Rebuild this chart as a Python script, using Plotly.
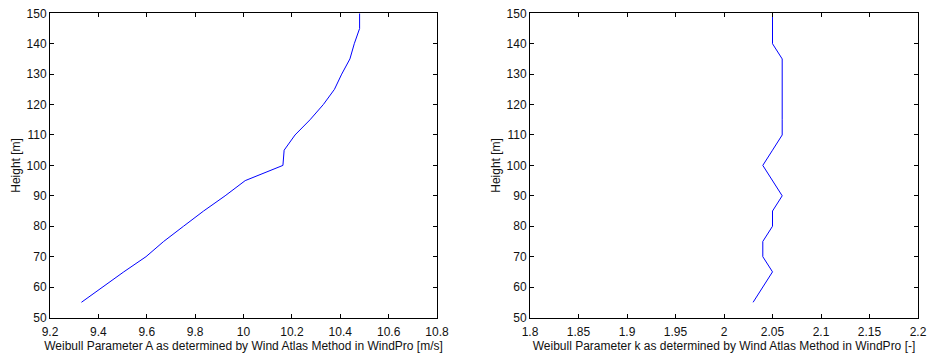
import plotly.graph_objects as go

# Hub-height profile (m) and the Weibull parameters at each height
heights = [55, 60, 65, 70, 75, 80, 85, 90, 95, 100,
           105, 110, 115, 120, 125, 130, 135, 140, 145, 150]
weibull_A = [9.33, 9.415, 9.505, 9.597, 9.67, 9.752, 9.835, 9.924, 10.007, 10.163,
             10.168, 10.213, 10.275, 10.33, 10.376, 10.406, 10.44, 10.458, 10.48, 10.48]
weibull_k = [2.03, 2.04, 2.05, 2.04, 2.04, 2.05, 2.05, 2.06, 2.05, 2.04,
             2.05, 2.06, 2.06, 2.06, 2.06, 2.06, 2.06, 2.05, 2.05, 2.05]

A_ticks = [9.2, 9.4, 9.6, 9.8, 10.0, 10.2, 10.4, 10.6, 10.8]
A_ticktext = ["9.2", "9.4", "9.6", "9.8", "10", "10.2", "10.4", "10.6", "10.8"]
k_ticks = [1.8, 1.85, 1.9, 1.95, 2.0, 2.05, 2.1, 2.15, 2.2]
k_ticktext = ["1.8", "1.85", "1.9", "1.95", "2", "2.05", "2.1", "2.15", "2.2"]
h_ticks = [50, 60, 70, 80, 90, 100, 110, 120, 130, 140, 150]

FONT = dict(family="Liberation Sans, Arial, sans-serif", size=12, color="#111")

fig = go.Figure()
fig.add_trace(go.Scatter(x=weibull_A, y=heights, mode="lines",
                         line=dict(color="#0000ff", width=1), xaxis="x", yaxis="y"))
fig.add_trace(go.Scatter(x=weibull_k, y=heights, mode="lines",
                         line=dict(color="#0000ff", width=1), xaxis="x2", yaxis="y2"))

axis_common = dict(showline=True, linecolor="#000", linewidth=1, mirror="allticks",
                   ticks="inside", ticklen=4, tickcolor="#000", showgrid=False,
                   zeroline=False, tickfont=FONT, automargin=False)

fig.update_layout(
    width=932, height=353,
    margin=dict(l=0, r=0, t=0, b=0),
    paper_bgcolor="white", plot_bgcolor="white",
    showlegend=False, font=FONT,
    xaxis=dict(domain=[50 / 932, 437 / 932], range=[9.2, 10.8],
               tickvals=A_ticks, ticktext=A_ticktext, ticklabelstandoff=3,
               title=dict(text="Weibull Parameter A as determined by Wind Atlas Method in WindPro [m/s]",
                          font=FONT, standoff=1),
               anchor="y", **axis_common),
    yaxis=dict(domain=[35.5 / 353, 339.7 / 353], range=[50, 150], tickvals=h_ticks,
               title=dict(text="Height [m]", font=FONT, standoff=3),
               anchor="x", **axis_common),
    xaxis2=dict(domain=[530 / 932, 918 / 932], range=[1.8, 2.2],
                tickvals=k_ticks, ticktext=k_ticktext, ticklabelstandoff=3,
                title=dict(text="Weibull Parameter k as determined by Wind Atlas Method in WindPro [-]",
                           font=FONT, standoff=1),
                anchor="y2", **axis_common),
    yaxis2=dict(domain=[35.5 / 353, 339.7 / 353], range=[50, 150], tickvals=h_ticks,
                title=dict(text="Height [m]", font=FONT, standoff=3),
                anchor="x2", **axis_common),
)

fig.write_html("out.html")
